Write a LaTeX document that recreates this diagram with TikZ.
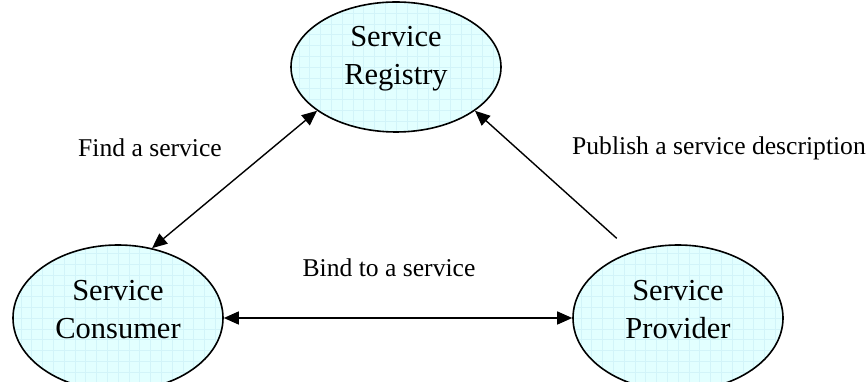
\documentclass[tikz,border=0pt]{standalone}
\usepackage{fontspec}
\setmainfont{Liberation Serif}
\usetikzlibrary{shapes.geometric,arrows.meta}

\definecolor{cellfill}{RGB}{226,255,255}
\definecolor{cellgrid}{RGB}{210,244,249}

\tikzset{
  party/.style={
    ellipse, draw=black, line width=1.6pt, fill=cellfill,
    minimum width=210pt, inner sep=0pt,
    path picture={
      \draw[cellgrid, line width=0.5pt, step=10.8pt]
        ([shift={(-120pt,-90pt)}]path picture bounding box.center) grid
        ([shift={(120pt,90pt)}]path picture bounding box.center);
    }
  },
  partytext/.style={align=center, font=\fontsize{30.5}{38}\selectfont, yshift=8pt},
  link/.style={line width=1.4pt, {Triangle[length=15pt,width=13pt]}-{Triangle[length=15pt,width=13pt]}},
  onelink/.style={line width=1.4pt, -{Triangle[length=15pt,width=13pt]}},
  tag/.style={font=\fontsize{25.6}{30}\selectfont, inner sep=0pt}
}

\begin{document}
\begin{tikzpicture}[x=1pt,y=1pt]
  \useasboundingbox (0,0) rectangle (866,382);

  % the three roles
  \node[party, minimum height=130pt,
        label={[partytext]center:Service\\Registry}] (registry) at (396,315) {};
  \node[party, minimum height=146pt,
        label={[partytext]center:Service\\Consumer}] (consumer) at (118,64) {};
  \node[party, minimum height=146pt,
        label={[partytext]center:Service\\Provider}] (provider) at (678,64) {};

  % interactions between the roles
  \draw[link] (consumer.64) -- (registry.209);
  \draw[onelink, shorten <=20pt] (provider.125) -- (registry.331);
  \draw[link] (consumer.east) -- (provider.west);

  % interaction labels
  \node[tag, anchor=west] (findlbl) at (78,234) {Find a service};
  \node[tag, anchor=east] (publbl) at (866,234) {Publish a service description};
  \node[tag] (bindlbl) at (389,114) {Bind to a service};
\end{tikzpicture}
\end{document}
